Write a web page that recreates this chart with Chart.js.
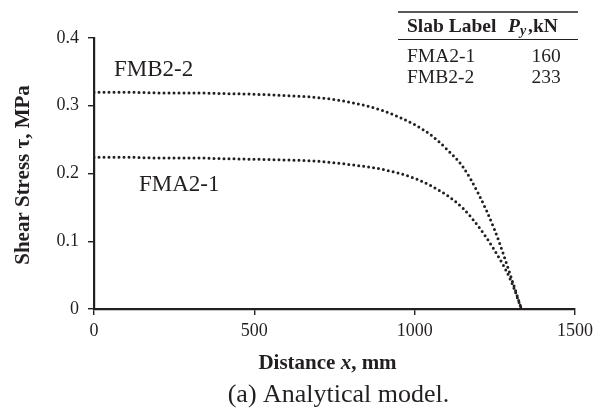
<!DOCTYPE html>
<html>
<head>
<meta charset="utf-8">
<script src="https://cdn.jsdelivr.net/npm/chart.js@4/dist/chart.umd.min.js"></script>
<style>
  html, body { margin: 0; padding: 0; background: #fff; }
  #wrap { width: 598px; height: 410px; }
</style>
</head>
<body>
<div id="wrap"><canvas id="shear-chart" width="598" height="410"></canvas></div>
<script>
let ink = "#231f20";
let serif = "'Liberation Serif', 'Times New Roman', serif";

// distance x (mm) and shear stress (MPa)
let distFMA = [0, 100, 200, 300, 400, 500, 600, 700, 800, 900, 1000, 1050, 1100, 1150, 1200, 1250, 1300, 1333];
let tauFMA = [0.224, 0.224, 0.223, 0.223, 0.222, 0.221, 0.220, 0.218, 0.213, 0.206, 0.193, 0.182, 0.168, 0.149, 0.121, 0.086, 0.042, 0];
let distFMB = [0, 100, 200, 300, 400, 500, 600, 700, 800, 900, 1000, 1050, 1100, 1150, 1200, 1250, 1300, 1333];
let tauFMB = [0.320, 0.320, 0.319, 0.319, 0.318, 0.317, 0.315, 0.312, 0.305, 0.293, 0.272, 0.257, 0.236, 0.210, 0.169, 0.116, 0.048, 0];

let slabLabels = ["FMA2-1", "FMB2-2"];
let slabPy = ["160", "233"];

let xTicks = [0, 500, 1000, 1500];
let yTicks = [0, 0.1, 0.2, 0.3, 0.4];

function toPoints(xs, ys){
  return xs.map(function(x, i){ return {x: x, y: ys[i]}; });
}

function dotted(label, xs, ys){
  return {
    label: label,
    data: toPoints(xs, ys),
    borderColor: ink,
    borderWidth: 3,
    borderDash: [0, 5],
    borderCapStyle: 'round',
    cubicInterpolationMode: 'monotone',
    pointRadius: 0,
    fill: false
  };
}

// text drawn on top: curve labels, table, axis titles, caption
let textLayer = {
  id: 'textLayer',
  afterDraw: function(chart){
    let ctx = chart.ctx;
    ctx.save();
    ctx.fillStyle = ink;
    ctx.strokeStyle = ink;

    // curve labels
    ctx.font = "23px " + serif;
    ctx.textAlign = 'left';
    ctx.textBaseline = 'alphabetic';
    ctx.fillText(slabLabels[1], 114, 76);
    ctx.fillText(slabLabels[0], 139, 190.5);

    // table
    ctx.lineWidth = 1.6;
    ctx.beginPath(); ctx.moveTo(398, 12); ctx.lineTo(578, 12); ctx.stroke();
    ctx.lineWidth = 1.2;
    ctx.beginPath(); ctx.moveTo(398, 39.5); ctx.lineTo(578, 39.5); ctx.stroke();

    ctx.font = "bold 19.5px " + serif;
    ctx.fillText("Slab Label", 407, 31.5);
    ctx.font = "italic bold 19.5px " + serif;
    ctx.fillText("P", 508, 31.5);
    ctx.font = "italic bold 14px " + serif;
    ctx.fillText("y", 520, 35);
    ctx.font = "bold 19.5px " + serif;
    ctx.fillText(",kN", 528, 31.5);

    ctx.font = "19.5px " + serif;
    for (let i = 0; i < slabLabels.length; i++){
      let by = 61.5 + i * 21.7;
      ctx.textAlign = 'left';
      ctx.fillText(slabLabels[i], 407, by);
      ctx.textAlign = 'center';
      ctx.fillText(slabPy[i], 546, by);
    }

    // x axis title, mixed bold / bold italic
    let parts = [["Distance ", "bold"], ["x", "italic bold"], [", mm", "bold"]];
    let total = 0;
    parts.forEach(function(p){ ctx.font = p[1] + " 21px " + serif; total += ctx.measureText(p[0]).width; });
    let px = 327.5 - total / 2;
    ctx.textAlign = 'left';
    parts.forEach(function(p){
      ctx.font = p[1] + " 21px " + serif;
      ctx.fillText(p[0], px, 369);
      px += ctx.measureText(p[0]).width;
    });

    // y axis title
    ctx.save();
    ctx.translate(28.5, 175);
    ctx.rotate(-Math.PI / 2);
    ctx.font = "bold 21px " + serif;
    ctx.textAlign = 'center';
    ctx.fillText("Shear Stress \u03c4, MPa", 0, 0);
    ctx.restore();

    // caption
    ctx.font = "26px " + serif;
    ctx.textAlign = 'center';
    ctx.fillText("(a) Analytical model.", 338.5, 401.5);

    ctx.restore();
  }
};

function shear_graph(){
  let ctx = document.getElementById('shear-chart').getContext('2d');
  let chart = new Chart(ctx,
  {
    type: 'line',
    data: {
      datasets: [
        dotted(slabLabels[0], distFMA, tauFMA),
        dotted(slabLabels[1], distFMB, tauFMB)
      ]
    },
    options: {
      responsive: false,
      animation: false,
      devicePixelRatio: 1,
      layout: {
        padding: { left: 0, right: 17, top: 38, bottom: 0 }
      },
      plugins: {
        legend: { display: false },
        tooltip: { enabled: false }
      },
      scales: {
        x: {
          type: 'linear',
          min: xTicks[0],
          max: xTicks[xTicks.length - 1],
          afterBuildTicks: function(s){ s.ticks = xTicks.map(function(v){ return {value: v}; }); },
          afterFit: function(s){ s.height = 101; },
          border: { display: true, color: ink, width: 2.2 },
          grid: { drawOnChartArea: false, drawTicks: true, tickLength: 6, color: ink, lineWidth: 1.4 },
          ticks: {
            color: ink,
            padding: 5,
            maxRotation: 0,
            font: { family: serif, size: 18 },
            callback: function(v){ return String(v); }
          }
        },
        y: {
          min: yTicks[0],
          max: yTicks[yTicks.length - 1],
          afterBuildTicks: function(s){ s.ticks = yTicks.map(function(v){ return {value: v}; }); },
          afterFit: function(s){ s.width = 94; },
          border: { display: true, color: ink, width: 2.2 },
          grid: { drawOnChartArea: false, drawTicks: true, tickLength: 6, color: ink, lineWidth: 1.4 },
          ticks: {
            color: ink,
            padding: 9,
            font: { family: serif, size: 18 },
            callback: function(v){ return v === 0 ? '0' : v.toFixed(1); }
          }
        }
      }
    },
    plugins: [textLayer]
  });
  return chart;
}

shear_graph();
</script>
</body>
</html>
